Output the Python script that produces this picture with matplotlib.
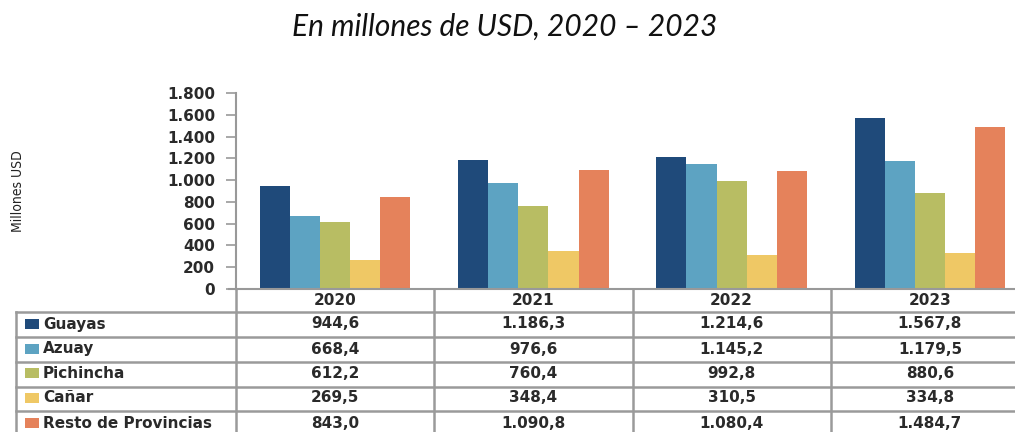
import matplotlib
matplotlib.use("Agg")
import matplotlib.pyplot as plt
from matplotlib.lines import Line2D
from matplotlib.patches import Rectangle
from matplotlib.transforms import blended_transform_factory
import numpy as np

years = ["2020", "2021", "2022", "2023"]
series_names = ["Guayas", "Azuay", "Pichincha", "Cañar", "Resto de Provincias"]
guayas = [944.6, 1186.3, 1214.6, 1567.8]
azuay = [668.4, 976.6, 1145.2, 1179.5]
pichincha = [612.2, 760.4, 992.8, 880.6]
canar = [269.5, 348.4, 310.5, 334.8]
resto = [843.0, 1090.8, 1080.4, 1484.7]
colors = ["#1F4A7A", "#5DA3C2", "#B8BD63", "#EFC865", "#E5825B"]
yticks = [0, 200, 400, 600, 800, 1000, 1200, 1400, 1600, 1800]

series = [guayas, azuay, pichincha, canar, resto]

W, H = 1015, 432
fig = plt.figure(figsize=(W / 100, H / 100), dpi=100)

def fx(px):
    return px / W

def fy(py):
    return 1 - py / H

ax_left, ax_right, ax_top, ax_bottom = 236, 1029, 93, 289
ax = fig.add_axes([fx(ax_left), fy(ax_bottom), fx(ax_right - ax_left), (ax_bottom - ax_top) / H])

def fmt(v):
    s = f"{v:,.1f}"
    return s.replace(",", "X").replace(".", ",").replace("X", ".")

def fmt_tick(v):
    return f"{int(v):,}".replace(",", ".")

bw = 0.152
x = np.arange(len(years)) + 0.5
for i, (vals, c) in enumerate(zip(series, colors)):
    ax.bar(x + (i - 2) * bw, vals, width=bw, color=c, linewidth=0)

ax.set_xlim(0, 4)
ax.set_ylim(0, 1800)
ax.set_yticks(yticks)
ax.set_yticklabels([fmt_tick(t) for t in yticks], fontsize=11, fontweight="bold",
                   color="#2a2a2a", family="DejaVu Sans")
ax.tick_params(axis="y", direction="out", length=7, width=1.2, color="#999999", pad=8)
ax.set_xticks([])
for s in ["top", "right"]:
    ax.spines[s].set_visible(False)
ax.spines["left"].set_color("#999999")
ax.spines["left"].set_linewidth(1.5)
ax.spines["bottom"].set_color("#999999")
ax.spines["bottom"].set_linewidth(1.5)
ax.patch.set_alpha(0)

# extend x axis line to the left like the 0 tick
fig.add_artist(Line2D([fx(229), fx(236)], [fy(289), fy(289)], color="#999999", lw=1.5))

fig.text(fx(18), fy(191), "Millones USD", rotation=90, ha="center", va="center",
         fontsize=10, family="DejaVu Sans", fontstretch="condensed",
         color="#222222")

fig.text(fx(505), fy(27), "En millones de USD, 2020 – 2023", ha="center", va="center",
         fontsize=21.5, style="italic", family=["Lato", "DejaVu Sans"], color="#111111")

# data table
tr = blended_transform_factory(ax.transData, fig.transFigure)
gc = "#9a9a9a"
row_lines = [311.5, 336.5, 361.5, 386.5, 411.0]
for yl in row_lines:
    fig.add_artist(Line2D([fx(16), fx(1029)], [fy(yl), fy(yl)], color=gc, lw=1.8))
fig.add_artist(Line2D([fx(16), fx(16)], [fy(311.5), fy(440)], color=gc, lw=1.8))
for k in range(len(years) + 1):
    ax.add_line(Line2D([k, k], [fy(289), fy(440)], color=gc, lw=1.8, transform=tr, clip_on=False))

tfont = dict(fontsize=11, fontweight="bold", color="#2a2a2a", family="DejaVu Sans")
for k, yr in enumerate(years):
    ax.text(k + 0.5, fy(300.5), yr, ha="center", va="center", transform=tr, **tfont)

row_centers = [324, 349, 373, 398, 423]
for r, (name, vals, c) in enumerate(zip(series_names, series, colors)):
    yc = row_centers[r]
    fig.add_artist(Rectangle((fx(25), fy(yc + 5)), fx(14), 10 / H, facecolor=c, edgecolor="none"))
    fig.text(fx(43), fy(yc), name, ha="left", va="center", **tfont)
    for k, v in enumerate(vals):
        ax.text(k + 0.5, fy(yc), fmt(v), ha="center", va="center", transform=tr, **tfont)

fig.savefig("out.png", dpi=100)
